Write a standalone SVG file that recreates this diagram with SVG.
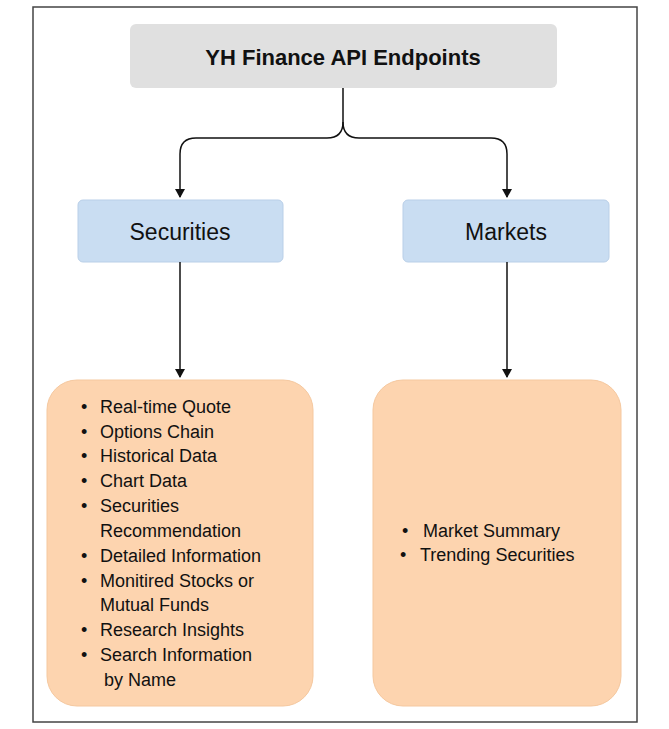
<svg xmlns="http://www.w3.org/2000/svg" width="669" height="729" viewBox="0 0 669 729">
<style>
text{font-family:"Liberation Sans",Arial,sans-serif;fill:#111}
.cat{fill:#c9ddf2;stroke:#b9cfe8;stroke-width:1}
.list{fill:#fdd4af;stroke:#f5c89f;stroke-width:1}
.li{font-size:18px}
.c{fill:none;stroke:#111;stroke-width:1.5}
</style>
<defs><marker id="a" markerWidth="10" markerHeight="10" refX="8" refY="5" orient="auto" markerUnits="userSpaceOnUse"><path d="M0,0 L9,5 L0,10 z" fill="#111"/></marker></defs>
<rect x="33" y="7" width="604" height="715" fill="#fff" stroke="#444" stroke-width="1.5"/>
<g id="title"><rect x="130" y="24" width="427" height="64" rx="6" fill="#e0e0e0"/><text x="343" y="65" font-size="22" font-weight="bold" text-anchor="middle">YH Finance API Endpoints</text></g>
<g id="securities"><rect class="cat" x="78" y="200" width="205" height="62" rx="5"/><text x="180" y="240" font-size="23" text-anchor="middle">Securities</text></g>
<g id="markets"><rect class="cat" x="403" y="200" width="206" height="62" rx="5"/><text x="506" y="240" font-size="23" text-anchor="middle">Markets</text></g>
<g id="securities-list"><rect class="list" x="47" y="380" width="266" height="326" rx="30"/>
<text class="li"><tspan x="81" y="413">•</tspan><tspan x="100" y="413">Real-time Quote</tspan><tspan x="81" y="438">•</tspan><tspan x="100" y="438">Options Chain</tspan><tspan x="81" y="462">•</tspan><tspan x="100" y="462">Historical Data</tspan><tspan x="81" y="487">•</tspan><tspan x="100" y="487">Chart Data</tspan><tspan x="81" y="512">•</tspan><tspan x="100" y="512">Securities</tspan><tspan x="100" y="537">Recommendation</tspan><tspan x="81" y="562">•</tspan><tspan x="100" y="562">Detailed Information</tspan><tspan x="81" y="587">•</tspan><tspan x="100" y="587">Monitired Stocks or</tspan><tspan x="100" y="611">Mutual Funds</tspan><tspan x="81" y="636">•</tspan><tspan x="100" y="636">Research Insights</tspan><tspan x="81" y="661">•</tspan><tspan x="100" y="661">Search Information</tspan><tspan x="104" y="686">by Name</tspan></text></g>
<g id="markets-list"><rect class="list" x="373" y="380" width="248" height="326" rx="30"/>
<text class="li"><tspan x="402" y="537">•</tspan><tspan x="423" y="537">Market Summary</tspan><tspan x="400" y="561">•</tspan><tspan x="420" y="561">Trending Securities</tspan></text></g>
<g id="connectors">
<path class="c" d="M343,88 V122 Q343,138 327,138 H196 Q180,138 180,154 V197" marker-end="url(#a)"/>
<path class="c" d="M343,122 Q343,138 359,138 H491 Q507,138 507,154 V197" marker-end="url(#a)"/>
<path class="c" d="M180,262 V377" marker-end="url(#a)"/>
<path class="c" d="M507,262 V377" marker-end="url(#a)"/>
</g>
</svg>
